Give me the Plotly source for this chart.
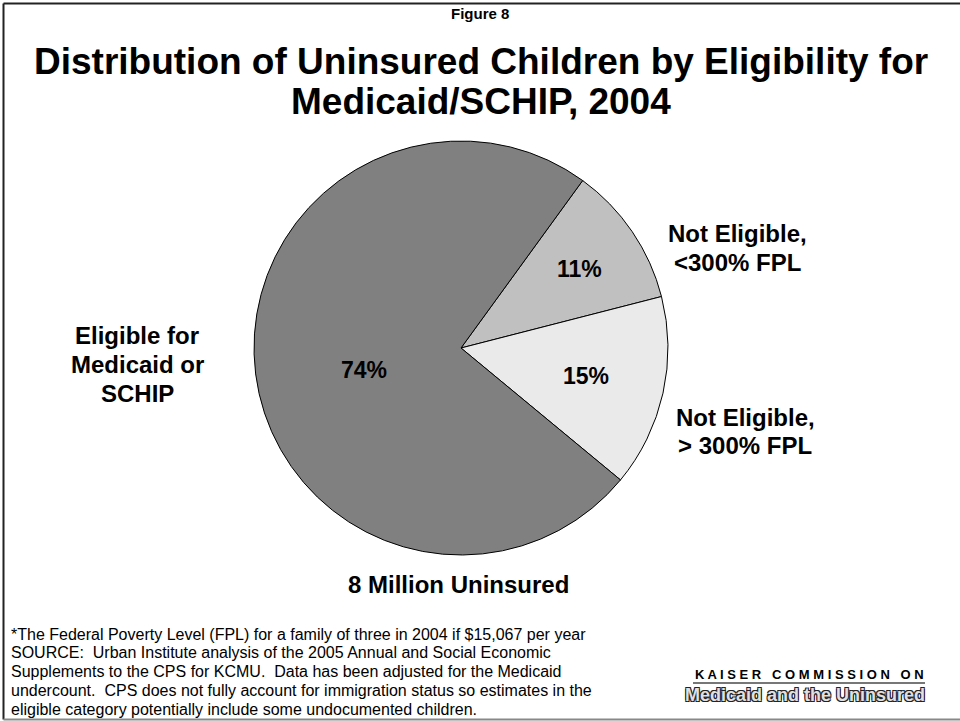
import plotly.graph_objects as go

W, H = 960, 721

# ---- data ----
slice_labels = ["Not Eligible, <300% FPL", "Not Eligible, > 300% FPL", "Eligible for Medicaid or SCHIP"]
slice_values = [11, 15, 74]
slice_colors = ["#C0C0C0", "#EAEAEA", "#808080"]

outer_label_lines = [
    ["Not Eligible,", "<300% FPL"],
    ["Not Eligible,", "> 300% FPL"],
    ["Eligible for", "Medicaid or", "SCHIP"],
]
outer_pos = [(737, 233), (745, 417), (137, 335)]
pct_pos = [(579, 269), (586, 376), (364, 370)]

fig_label = "Figure 8"
title_lines = ["Distribution of Uninsured Children by Eligibility for", "Medicaid/SCHIP, 2004"]
total_text = "8 Million Uninsured"
footnote_lines = [
    "*The Federal Poverty Level (FPL) for a family of three in 2004 if $15,067 per year",
    "SOURCE:  Urban Institute analysis of the 2005 Annual and Social Economic",
    "Supplements to the CPS for KCMU.  Data has been adjusted for the Medicaid",
    "undercount.  CPS does not fully account for immigration status so estimates in the",
    "eligible category potentially include some undocumented children.",
]
logo_top = "K A I S E R   C O M M I S S I O N   O N"
logo_bottom = "Medicaid and the Uninsured"

FONT = "Liberation Sans, Arial, sans-serif"


def px(x):
    return x / W


def py(y):
    return 1 - y / H


cx, cy, r = 461, 348, 207

fig = go.Figure()
fig.add_trace(go.Pie(
    labels=slice_labels,
    values=slice_values,
    sort=False,
    direction="clockwise",
    rotation=36,
    marker=dict(colors=slice_colors, line=dict(color="#000000", width=1)),
    textinfo="none",
    domain=dict(x=[px(cx - r), px(cx + r)], y=[py(cy + r), py(cy - r)]),
    showlegend=False,
    hoverinfo="label+percent",
))

ann = []
ann.append(dict(text="<b>" + fig_label + "</b>", x=px(480), y=py(14), font=dict(size=15)))
for i, t in enumerate(title_lines):
    ann.append(dict(text="<b>" + t + "</b>", x=px(481), y=py(62 + 40 * i), font=dict(size=37)))
for lines, (x, y) in zip(outer_label_lines, outer_pos):
    for i, t in enumerate(lines):
        ann.append(dict(text="<b>" + t + "</b>", x=px(x), y=py(y + 29 * i), font=dict(size=24)))
for v, (x, y) in zip(slice_values, pct_pos):
    ann.append(dict(text="<b>%d%%</b>" % v, x=px(x), y=py(y), font=dict(size=23)))
ann.append(dict(text="<b>" + total_text + "</b>", x=px(458), y=py(584), font=dict(size=24)))
for i, line in enumerate(footnote_lines):
    ann.append(dict(text=line, x=px(9), y=py(634 + 18.8 * i), xanchor="left", font=dict(size=16)))
ann.append(dict(text="<b>" + logo_top + "</b>", x=px(809), y=py(674), font=dict(size=13)))
ann.append(dict(text="<b>" + logo_bottom + "</b>", x=px(805), y=py(695),
                font=dict(size=18, color="#e0e0e0",
                          shadow="-1px -1px 0 #222, 1px -1px 0 #222, -1px 1px 0 #222, 1px 1px 0 #222")))

for a in ann:
    a.setdefault("xref", "paper")
    a.setdefault("yref", "paper")
    a.setdefault("xanchor", "center")
    a.setdefault("yanchor", "middle")
    a["showarrow"] = False
    a["font"].setdefault("family", FONT)
    a["font"].setdefault("color", "#000000")
    a["align"] = "center" if a["xanchor"] == "center" else "left"

shapes = [
    dict(type="line", x0=px(3.5), x1=px(3.5), y0=py(3.5), y1=py(719.5), line=dict(color="#222", width=2)),
    dict(type="line", x0=px(3.5), x1=px(960), y0=py(3.5), y1=py(3.5), line=dict(color="#222", width=2)),
    dict(type="line", x0=px(3.5), x1=px(960), y0=py(719.5), y1=py(719.5), line=dict(color="#888", width=2)),
    dict(type="line", x0=px(693), x1=px(925), y0=py(683), y1=py(683), line=dict(color="#777", width=2)),
]
for s in shapes:
    s["xref"] = "paper"
    s["yref"] = "paper"

fig.update_layout(
    width=W, height=H,
    margin=dict(l=0, r=0, t=0, b=0),
    paper_bgcolor="#ffffff",
    plot_bgcolor="#ffffff",
    annotations=ann,
    shapes=shapes,
    showlegend=False,
)

fig.write_html("out.html", config={"displayModeBar": False},
               post_script="document.body.style.margin='0';document.body.style.overflow='hidden';")
